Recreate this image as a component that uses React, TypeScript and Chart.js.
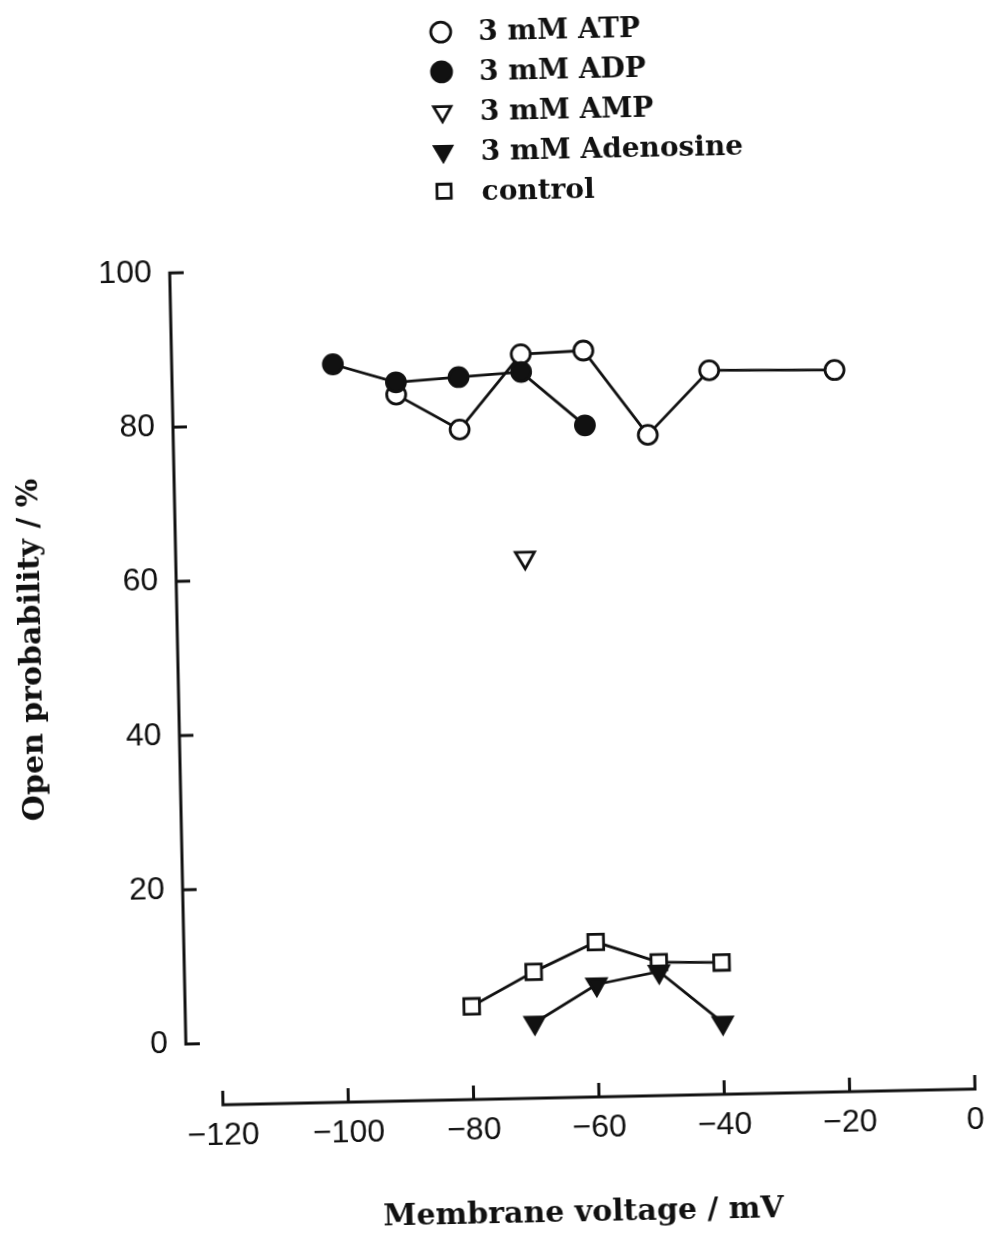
import React, { useEffect, useRef } from 'react';
import { Chart, registerables } from 'chart.js';
import { drawPoint } from 'chart.js/helpers';

Chart.register(...registerables);

// Series labels (legend order)
const seriesNames = ['3 mM ATP', '3 mM ADP', '3 mM AMP', '3 mM Adenosine', 'control'];

// Membrane voltage (mV) and open probability (%) per condition
const atpVoltage = [-90, -80, -70, -60, -50, -40, -20];
const atpOpen = [83.6, 78.9, 88.5, 88.8, 77.7, 85.9, 85.6];

const adpVoltage = [-100, -90, -80, -70, -60];
const adpOpen = [87.7, 85.2, 85.7, 86.2, 79.1];

const ampVoltage = [-70];
const ampOpen = [62.1];

const adenosineVoltage = [-70, -60, -50, -40];
const adenosineOpen = [1.8, 6.6, 8.1, 1.3];

const controlVoltage = [-80, -70, -60, -50, -40];
const controlOpen = [4.1, 8.4, 12.1, 9.3, 9.1];

// Axis ticks
const xTickValues = [-120, -100, -80, -60, -40, -20, 0];
const yTickValues = [0, 20, 40, 60, 80, 100];

const INK = '#111';
const SERIF = '"DejaVu Serif", "Liberation Serif", serif';
const SANS = '"Liberation Sans", Arial, sans-serif';

// Where the detached voltage axis sits, in open-probability units
const X_AXIS_AT = -8;
const TICK_LEN = 14;

const toPoints = (xs: number[], ys: number[]) => xs.map((x, i) => ({ x, y: ys[i] }));

const formatTick = (v: number) => (v < 0 ? '\u2212' + Math.abs(v) : String(v));

// Axis lines with inward ticks, drawn apart from the plotting corner
const detachedAxes = {
  id: 'detachedAxes',
  beforeDatasetsDraw(chart: any) {
    const { ctx, chartArea, scales } = chart;
    const x = scales.x;
    const y = scales.y;
    const ax = chartArea.left;
    const yTop = y.getPixelForValue(yTickValues[yTickValues.length - 1]);
    const yBottom = y.getPixelForValue(yTickValues[0]);
    const baseY = y.getPixelForValue(X_AXIS_AT);
    const xl = x.getPixelForValue(xTickValues[0]);
    const xr = x.getPixelForValue(xTickValues[xTickValues.length - 1]);

    ctx.save();
    ctx.strokeStyle = INK;
    ctx.lineWidth = 3;
    ctx.lineJoin = 'miter';
    ctx.lineCap = 'butt';
    ctx.beginPath();
    ctx.moveTo(ax + TICK_LEN, yTop);
    ctx.lineTo(ax, yTop);
    ctx.lineTo(ax, yBottom);
    ctx.lineTo(ax + TICK_LEN, yBottom);
    yTickValues.slice(1, -1).forEach((v) => {
      const p = y.getPixelForValue(v);
      ctx.moveTo(ax, p);
      ctx.lineTo(ax + TICK_LEN, p);
    });
    ctx.moveTo(xl, baseY - TICK_LEN);
    ctx.lineTo(xl, baseY);
    ctx.lineTo(xr, baseY);
    ctx.lineTo(xr, baseY - TICK_LEN);
    xTickValues.slice(1, -1).forEach((v) => {
      const p = x.getPixelForValue(v);
      ctx.moveTo(p, baseY);
      ctx.lineTo(p, baseY - TICK_LEN);
    });
    ctx.stroke();
    ctx.restore();
  },
};

// One-column legend above the plot
const stackedLegend = {
  id: 'stackedLegend',
  afterDraw(chart: any, _args: any, opts: any) {
    const { ctx } = chart;
    ctx.save();
    ctx.font = `bold ${opts.fontSize}px ${SERIF}`;
    ctx.textAlign = 'left';
    ctx.textBaseline = 'alphabetic';
    chart.data.datasets.forEach((ds: any, i: number) => {
      const base = opts.top + i * opts.rowGap;
      ctx.fillStyle = ds.pointBackgroundColor;
      ctx.strokeStyle = ds.pointBorderColor;
      ctx.lineWidth = ds.pointBorderWidth;
      drawPoint(
        ctx,
        {
          pointStyle: ds.pointStyle,
          rotation: ds.pointRotation || 0,
          radius: opts.markerRadius,
          borderWidth: ds.pointBorderWidth,
        } as any,
        opts.markerX,
        base - opts.markerLift
      );
      ctx.fillStyle = INK;
      ctx.fillText(ds.label, opts.textX, base);
    });
    ctx.restore();
  },
};

function buildConfig(): any {
  const common = {
    borderColor: INK,
    borderWidth: 2.8,
    pointBorderColor: INK,
    pointBorderWidth: 2.8,
    clip: false,
  };
  return {
    type: 'scatter',
    data: {
      datasets: [
        {
          ...common,
          label: seriesNames[0],
          data: toPoints(atpVoltage, atpOpen),
          showLine: true,
          pointStyle: 'circle',
          pointRadius: 9.5,
          pointBackgroundColor: '#fff',
          order: 4,
        },
        {
          ...common,
          label: seriesNames[1],
          data: toPoints(adpVoltage, adpOpen),
          showLine: true,
          pointStyle: 'circle',
          pointRadius: 9.5,
          pointBackgroundColor: INK,
          order: 3,
        },
        {
          ...common,
          label: seriesNames[2],
          data: toPoints(ampVoltage, ampOpen),
          showLine: false,
          pointStyle: 'triangle',
          pointRotation: 180,
          pointRadius: 11,
          pointBackgroundColor: '#fff',
          order: 2,
        },
        {
          ...common,
          label: seriesNames[3],
          data: toPoints(adenosineVoltage, adenosineOpen),
          showLine: true,
          pointStyle: 'triangle',
          pointRotation: 180,
          pointRadius: 11,
          pointBackgroundColor: INK,
          order: 1,
        },
        {
          ...common,
          label: seriesNames[4],
          data: toPoints(controlVoltage, controlOpen),
          showLine: true,
          pointStyle: 'rect',
          pointRadius: 11,
          pointBackgroundColor: '#fff',
          order: 5,
        },
      ],
    },
    options: {
      responsive: false,
      animation: false,
      events: [],
      layout: { padding: { top: 243, right: 23, bottom: 0, left: 0 } },
      plugins: {
        legend: { display: false },
        tooltip: { enabled: false },
        stackedLegend: {
          top: 40.4,
          rowGap: 39.8,
          markerX: 453,
          textX: 490.6,
          markerLift: 9.3,
          markerRadius: 10,
          fontSize: 28,
        },
      },
      scales: {
        x: {
          type: 'linear',
          min: -125.72,
          max: 0,
          // tick marks are hidden; their length only sets the label offset
          grid: { display: false, drawTicks: true, tickLength: 74 },
          border: { display: false },
          afterBuildTicks: (s: any) => {
            s.ticks = xTickValues.map((v) => ({ value: v }));
          },
          afterFit: (s: any) => {
            s.height = 196.6;
          },
          ticks: {
            padding: 0,
            color: INK,
            maxRotation: 0,
            autoSkip: false,
            font: { family: SANS, size: 32 },
            callback: (v: any) => formatTick(Number(v)),
          },
          title: {
            display: true,
            text: 'Membrane voltage / mV',
            color: INK,
            font: { family: SERIF, size: 30, weight: 'bold' },
            padding: { top: 0, bottom: 0.5 },
          },
        },
        y: {
          type: 'linear',
          min: 0,
          max: 103,
          grid: { display: false, drawTicks: true, tickLength: 18 },
          border: { display: false },
          afterBuildTicks: (s: any) => {
            s.ticks = yTickValues.map((v) => ({ value: v }));
          },
          afterFit: (s: any) => {
            s.width = 177;
          },
          ticks: {
            padding: 0,
            color: INK,
            autoSkip: false,
            font: { family: SANS, size: 32 },
            callback: (v: any) => formatTick(Number(v)),
          },
          title: {
            display: true,
            text: 'Open probability / %',
            color: INK,
            font: { family: SERIF, size: 30, weight: 'bold' },
            padding: { top: 14, bottom: 0 },
          },
        },
      },
    },
    plugins: [detachedAxes, stackedLegend],
  };
}

export default function App() {
  const ref = useRef<HTMLCanvasElement>(null);

  useEffect(() => {
    if (!ref.current) return;
    const chart = new Chart(ref.current, buildConfig());
    return () => chart.destroy();
  }, []);

  return (
    <div
      style={{
        position: 'fixed',
        left: 0,
        top: 0,
        width: 988,
        height: 1234,
        overflow: 'hidden',
        background: '#fff',
      }}
    >
      <canvas
        ref={ref}
        width={988}
        height={1234}
        style={{ display: 'block', transform: 'rotate(-1.2deg)', transformOrigin: '50% 50%' }}
      />
    </div>
  );
}
